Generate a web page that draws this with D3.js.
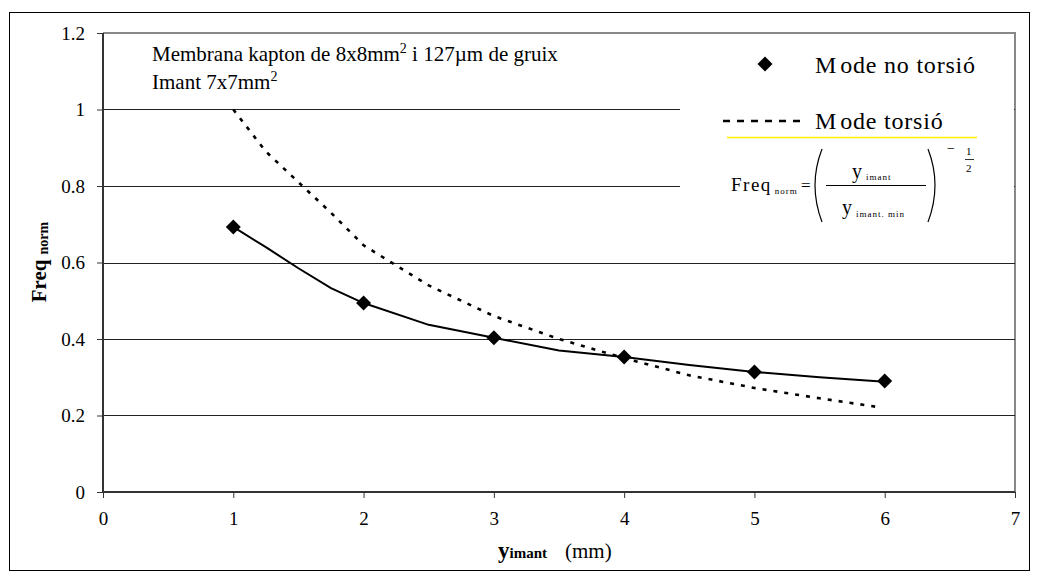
<!DOCTYPE html>
<html><head><meta charset="utf-8">
<script src="https://cdn.jsdelivr.net/npm/d3@7"></script>
<style>body{margin:0;background:#fff}svg{display:block}svg text{font-family:"Liberation Serif",Tinos,"Times New Roman","DejaVu Serif",serif !important;fill:#000}</style>
</head><body><svg id="c" width="1038" height="576"></svg>
<script>
const xTicks = [0, 1, 2, 3, 4, 5, 6, 7];
const yTicks = [0, 0.2, 0.4, 0.6, 0.8, 1.0, 1.2];
const yTickLabels = ["0", "0.2", "0.4", "0.6", "0.8", "1", "1.2"];
const noTorsioX = [1, 2, 3, 4, 5, 6];
const noTorsioY = [0.693, 0.494, 0.403, 0.353, 0.314, 0.290];
const noTorsioLineX = [1, 1.25, 1.5, 1.75, 2, 2.5, 3, 3.5, 4, 4.5, 5, 5.5, 6];
const noTorsioLineY = [0.693, 0.64, 0.585, 0.533, 0.494, 0.437, 0.403, 0.37, 0.353, 0.332, 0.314, 0.30, 0.288];
const torsioX = [1, 1.25, 1.5, 1.75, 2, 2.5, 3, 3.5, 4, 4.5, 5, 5.5, 5.95];
const torsioY = [1.0, 0.89, 0.81, 0.73, 0.645, 0.54, 0.46, 0.40, 0.35, 0.305, 0.272, 0.245, 0.222];
const seriesNames = ["Mode no torsió", "Mode torsió"];

const FONT = '"Liberation Serif", Tinos, "Times New Roman", "DejaVu Serif", serif';
const svg = d3.select("#c");
const L = 103, R = 1015, T = 33, B = 492;
const x = d3.scaleLinear().domain([0, 7]).range([L, R]);
const y = d3.scaleLinear().domain([0, 1.2]).range([B, T]);

svg.append("rect").attr("x", 9.5).attr("y", 12.5).attr("width", 1020).attr("height", 558)
  .attr("fill", "#fff").attr("stroke", "#000").attr("stroke-width", 1);

svg.append("path").attr("d", `M${L},${T}H${R}V${B}`).attr("fill", "none").attr("stroke", "#888").attr("stroke-width", 2);

svg.append("g").selectAll("line").data(yTicks.filter(d => d > 0 && d < 1.2)).join("line")
  .attr("x1", L).attr("x2", R).attr("y1", d => Math.round(y(d)) + 0.5).attr("y2", d => Math.round(y(d)) + 0.5)
  .attr("stroke", "#222").attr("stroke-width", 1);

svg.append("rect").attr("x", 680).attr("y", 35).attr("width", 334).attr("height", 195).attr("fill", "#fff");

const yAxis = d3.axisLeft(y).tickValues(yTicks).tickFormat((d, i) => yTickLabels[i]).tickSize(6).tickPadding(12);
const gy = svg.append("g").attr("transform", `translate(${L},0)`).call(yAxis);
const xAxis = d3.axisBottom(x).tickValues(xTicks).tickFormat(d3.format("d")).tickSize(6).tickPadding(14);
const gx = svg.append("g").attr("transform", `translate(0,${B})`).call(xAxis);
[gx, gy].forEach(g => {
  g.attr("font-family", FONT).attr("font-size", 19);
  g.select(".domain").attr("stroke", "#333").attr("stroke-width", 2);
  g.selectAll(".tick line").attr("stroke", "#333").attr("stroke-width", 1);
  g.selectAll(".tick text").style("font-family", FONT).attr("font-size", 19).attr("fill", "#000");
});
gy.select(".domain").attr("d", `M0,${B}V${T}`);
gx.select(".domain").attr("d", `M${L},0H${R}`);

const line = d3.line().x(d => x(d[0])).y(d => y(d[1]));
svg.append("path").datum(torsioX.map((v, i) => [v, torsioY[i]]))
  .attr("d", line).attr("fill", "none").attr("stroke", "#000").attr("stroke-width", 2.6).attr("stroke-dasharray", "4,7");
svg.append("path").datum(noTorsioLineX.map((v, i) => [v, noTorsioLineY[i]]))
  .attr("d", line).attr("fill", "none").attr("stroke", "#000").attr("stroke-width", 2);

const diamond = (cx, cy, r) => `M${cx},${cy - r}L${cx + r},${cy}L${cx},${cy + r}L${cx - r},${cy}Z`;
svg.append("g").selectAll("path").data(noTorsioX.map((v, i) => [v, noTorsioY[i]])).join("path")
  .attr("d", d => diamond(x(d[0]), y(d[1]), 7.5)).attr("fill", "#000");

const T_ = (sel) => sel.append("text").style("font-family", FONT);

const ann = T_(svg).attr("x", 152).attr("y", 61).attr("font-size", 21);
ann.append("tspan").text("Membrana kapton de 8x8mm");
ann.append("tspan").attr("dy", -8).attr("font-size", 14).text("2");
ann.append("tspan").attr("dy", 8).text(" i 127µm de gruix");
const ann2 = T_(svg).attr("x", 152).attr("y", 89).attr("font-size", 21);
ann2.append("tspan").text("Imant 7x7mm");
ann2.append("tspan").attr("dy", -8).attr("font-size", 14).text("2");

// legend
svg.append("path").attr("d", diamond(765, 64, 7.5)).attr("fill", "#000");
const lg1 = T_(svg).attr("x", 815).attr("y", 73).attr("font-size", 24).attr("letter-spacing", 0.8);
lg1.append("tspan").text(seriesNames[0].slice(0, 1));
lg1.append("tspan").attr("dx", 3).text(seriesNames[0].slice(1));
svg.append("line").attr("x1", 723).attr("x2", 805).attr("y1", 121).attr("y2", 121)
  .attr("stroke", "#000").attr("stroke-width", 2.5).attr("stroke-dasharray", "7,7");
const lg2 = T_(svg).attr("x", 815).attr("y", 129).attr("font-size", 24).attr("letter-spacing", 0.8);
lg2.append("tspan").text(seriesNames[1].slice(0, 1));
lg2.append("tspan").attr("dx", 3).text(seriesNames[1].slice(1));
svg.append("line").attr("x1", 727).attr("x2", 977).attr("y1", 137.5).attr("y2", 137.5).attr("stroke", "#ffee00").attr("stroke-width", 1.5);

// formula
const f = svg.append("g");
const fr = T_(f).attr("x", 731).attr("y", 191).attr("font-size", 19).attr("letter-spacing", 1.5);
fr.append("tspan").text("Freq");
fr.append("tspan").attr("dx", 3).attr("dy", 3).attr("font-size", 9).attr("letter-spacing", 1).text("norm");
T_(f).attr("x", 801).attr("y", 191).attr("font-size", 17).text("=");
f.append("path").attr("d", "M822,149 Q808,185 822,222").attr("fill", "none").attr("stroke", "#000").attr("stroke-width", 1.2);
f.append("path").attr("d", "M928,149 Q942,185 928,222").attr("fill", "none").attr("stroke", "#000").attr("stroke-width", 1.2);
f.append("line").attr("x1", 826).attr("x2", 926).attr("y1", 185.5).attr("y2", 185.5).attr("stroke", "#000").attr("stroke-width", 1);
const num = T_(f).attr("x", 852).attr("y", 178).attr("font-size", 20);
num.append("tspan").text("y");
num.append("tspan").attr("dx", 4).attr("dy", 2).attr("font-size", 9).attr("letter-spacing", 1).text("imant");
const den = T_(f).attr("x", 842).attr("y", 214).attr("font-size", 20);
den.append("tspan").text("y");
den.append("tspan").attr("dx", 4).attr("dy", 3).attr("font-size", 9).attr("letter-spacing", 1).text("imant. min");
T_(f).attr("x", 947).attr("y", 153).attr("font-size", 14).text("−");
T_(f).attr("x", 966).attr("y", 155).attr("font-size", 11).text("1");
f.append("line").attr("x1", 965).attr("x2", 974).attr("y1", 159.5).attr("y2", 159.5).attr("stroke", "#000").attr("stroke-width", 0.8);
T_(f).attr("x", 966).attr("y", 172).attr("font-size", 11).text("2");

// axis titles
const yl = T_(svg).attr("transform", "translate(46,262) rotate(-90)").attr("text-anchor", "middle").attr("font-weight", "bold");
yl.append("tspan").attr("font-size", 21).text("Freq");
yl.append("tspan").attr("dx", 5).attr("dy", 2).attr("font-size", 14).text("norm");
const xl = T_(svg).attr("x", 498).attr("y", 558);
xl.append("tspan").attr("font-size", 23).attr("font-weight", "bold").text("y");
xl.append("tspan").attr("font-size", 15).attr("font-weight", "bold").text("imant");
xl.append("tspan").attr("dx", 18).attr("font-size", 21).text("(mm)");
</script></body></html>
